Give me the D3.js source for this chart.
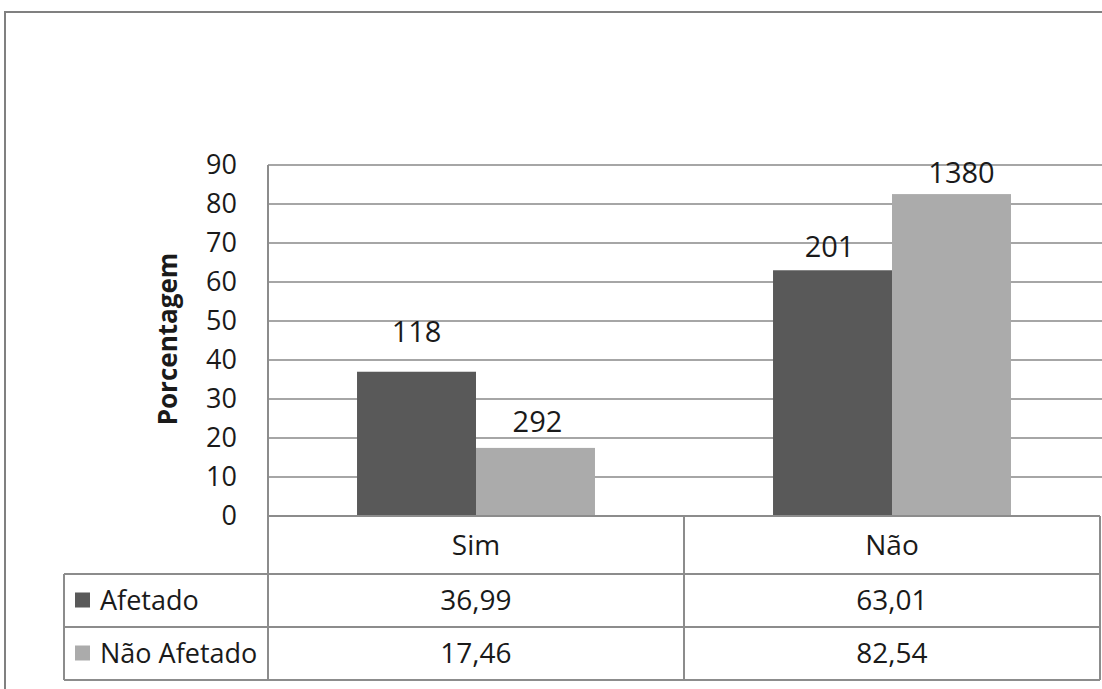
<!DOCTYPE html>
<html>
<head>
<meta charset="utf-8">
<script src="https://cdn.jsdelivr.net/npm/d3@7"></script>
<style>
  html, body { margin: 0; padding: 0; background: #ffffff; }
  svg { display: block; }
  text { font-family: "Open Sans", "Noto Sans", sans-serif; fill: #1a1a1a; }
</style>
</head>
<body>
<svg id="chart" width="1102" height="689"></svg>
<script>
// ---- data ----
const categories = ["Sim", "Não"];
const seriesNames = ["Afetado", "Não Afetado"];
const afetado = [36.99, 63.01];
const naoAfetado = [17.46, 82.54];
const countsAfetado = ["118", "201"];
const countsNaoAfetado = ["292", "1380"];
const tableAfetado = ["36,99", "63,01"];
const tableNaoAfetado = ["17,46", "82,54"];
const yTicks = [0, 10, 20, 30, 40, 50, 60, 70, 80, 90];
const yTitle = "Porcentagem";

const seriesValues = [afetado, naoAfetado];
const seriesCounts = [countsAfetado, countsNaoAfetado];
const seriesTable = [tableAfetado, tableNaoAfetado];
const colors = ["#595959", "#ababab"];

// ---- layout ----
const svg = d3.select("#chart");
const plotLeft = 268, plotRight = 1100, plotTop = 165, plotBottom = 516;
const rowTops = [516, 574, 627, 680];
const tableLeft = 64;
const gridColor = "#a6a6a6";
const lineColor = "#8c8c8c";

// outer frame
svg.append("rect")
  .attr("x", 5).attr("y", 12).attr("width", 1300).attr("height", 900)
  .attr("fill", "none").attr("stroke", "#808080").attr("stroke-width", 2);

const x0 = d3.scaleBand().domain(categories).range([plotLeft, plotRight]).padding(0);
const x1 = d3.scaleBand().domain(seriesNames)
  .range([x0.bandwidth() * 0.214, x0.bandwidth() * 0.786]).padding(0);
const y = d3.scaleLinear().domain([0, 90]).range([plotBottom, plotTop]);

// gridlines
svg.append("g").selectAll("line").data(yTicks.filter(d => d > 0)).join("line")
  .attr("x1", plotLeft).attr("x2", 1102)
  .attr("y1", d => y(d)).attr("y2", d => y(d))
  .attr("stroke", gridColor).attr("stroke-width", 2);

// y axis (labels only, no tick marks)
const yAxis = d3.axisLeft(y).tickValues(yTicks).tickSize(0).tickPadding(31);
const gy = svg.append("g").attr("transform", `translate(${plotLeft},0)`).call(yAxis);
gy.select(".domain").remove();
gy.selectAll("text").attr("font-size", 27).attr("fill", "#1a1a1a")
  .style("font-family", '"Open Sans", sans-serif');

// y title
svg.append("text")
  .attr("transform", `translate(177,339) rotate(-90)`)
  .attr("text-anchor", "middle")
  .attr("font-size", 26).attr("font-weight", "bold")
  .text(yTitle);

// bars
const groups = svg.append("g").selectAll("g").data(categories).join("g")
  .attr("transform", d => `translate(${x0(d)},0)`);

groups.selectAll("rect").data((c, ci) => seriesNames.map((s, si) => ({s, si, ci, v: seriesValues[si][ci]})))
  .join("rect")
  .attr("x", d => x1(d.s)).attr("width", x1.bandwidth())
  .attr("y", d => y(d.v)).attr("height", d => y(0) - y(d.v))
  .attr("fill", d => colors[d.si]);

// data labels (count of cases)
const labelLift = {"0-0": 30, "1-0": 16, "0-1": 13, "1-1": 11};
const labelShift = {"0-0": 0, "1-0": 2, "0-1": -3, "1-1": 10};
groups.selectAll("text.lbl").data((c, ci) => seriesNames.map((s, si) => ({s, si, ci, v: seriesValues[si][ci], t: seriesCounts[si][ci]})))
  .join("text").attr("class", "lbl")
  .attr("x", d => x1(d.s) + x1.bandwidth() / 2 + labelShift[d.si + "-" + d.ci])
  .attr("y", d => y(d.v) - labelLift[d.si + "-" + d.ci])
  .attr("text-anchor", "middle")
  .attr("font-size", 29)
  .text(d => d.t);

// ---- data table ----
const tbl = svg.append("g").attr("stroke", lineColor).attr("stroke-width", 2);
tbl.append("line").attr("x1", plotLeft).attr("x2", plotRight).attr("y1", rowTops[0]).attr("y2", rowTops[0]);
rowTops.slice(1).forEach(yy => {
  tbl.append("line").attr("x1", tableLeft).attr("x2", plotRight).attr("y1", yy).attr("y2", yy);
});
tbl.append("line").attr("x1", plotLeft).attr("x2", plotLeft).attr("y1", plotTop).attr("y2", rowTops[3]);
tbl.append("line").attr("x1", tableLeft).attr("x2", tableLeft).attr("y1", rowTops[1]).attr("y2", rowTops[3]);
categories.forEach(c => {
  tbl.append("line").attr("x1", x0(c) + x0.bandwidth()).attr("x2", x0(c) + x0.bandwidth())
    .attr("y1", rowTops[0]).attr("y2", rowTops[3]);
});

// category labels
svg.append("g").selectAll("text").data(categories).join("text")
  .attr("x", d => x0(d) + x0.bandwidth() / 2)
  .attr("y", (rowTops[0] + rowTops[1]) / 2)
  .attr("dy", "0.35em").attr("text-anchor", "middle")
  .attr("font-size", 28)
  .text(d => d);

// legend rows
seriesNames.forEach((s, si) => {
  const cy = (rowTops[si + 1] + rowTops[si + 2]) / 2;
  svg.append("rect").attr("x", 75).attr("y", cy - 8).attr("width", 15).attr("height", 15)
    .attr("fill", colors[si]);
  svg.append("text").attr("x", 100).attr("y", cy).attr("dy", "0.35em")
    .attr("font-size", 27).text(s);
  svg.append("g").selectAll("text").data(categories).join("text")
    .attr("x", d => x0(d) + x0.bandwidth() / 2)
    .attr("y", cy).attr("dy", "0.35em").attr("text-anchor", "middle")
    .attr("font-size", 28)
    .text((d, ci) => seriesTable[si][ci]);
});
</script>
</body>
</html>
